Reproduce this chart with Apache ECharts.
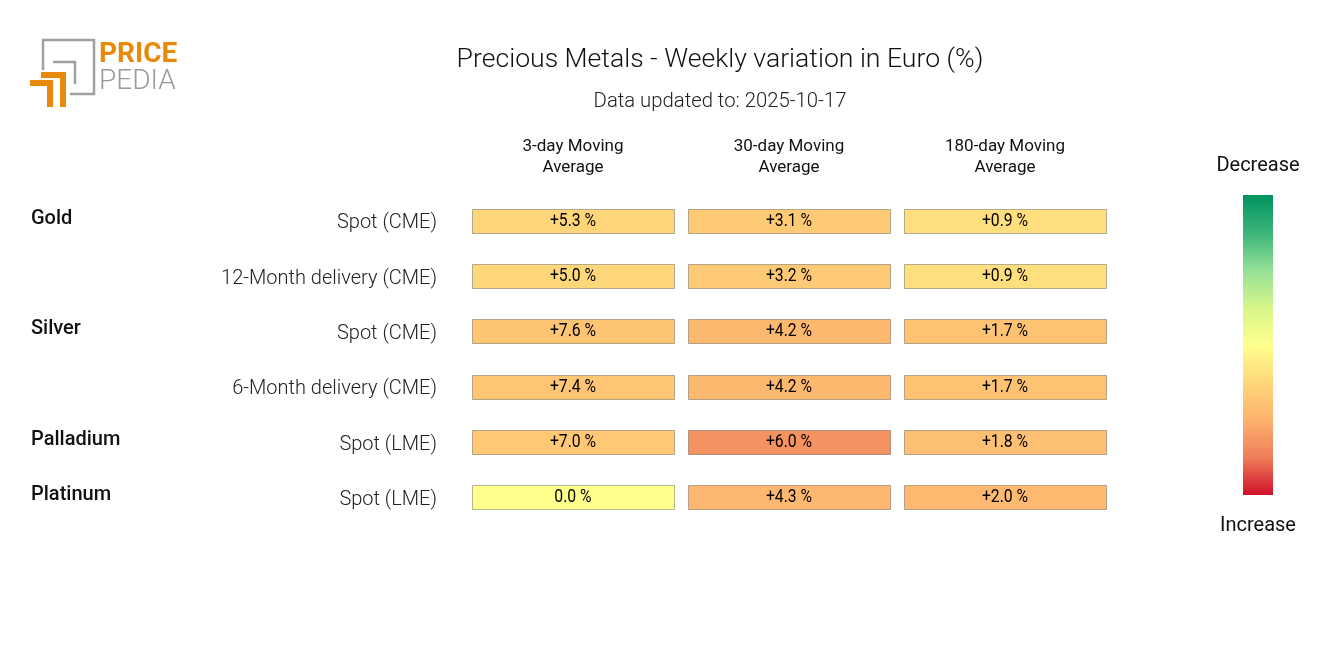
<!DOCTYPE html>
<html>
<head>
<meta charset="utf-8">
<script src="https://cdn.jsdelivr.net/npm/echarts@6/dist/echarts.min.js"></script>
<style>
html,body{margin:0;padding:0;background:#fff;}
#chart{width:1320px;height:645px;}
</style>
</head>
<body>
<div id="chart"></div>
<script>
// ---- data ----
const columns = ['3-day Moving\nAverage', '30-day Moving\nAverage', '180-day Moving\nAverage'];
const rowLabels = ['Spot (CME)', '12-Month delivery (CME)', 'Spot (CME)', '6-Month delivery (CME)', 'Spot (LME)', 'Spot (LME)'];
const groupLabels = ['Gold', '', 'Silver', '', 'Palladium', 'Platinum'];
const ma3 = [5.3, 5.0, 7.6, 7.4, 7.0, 0.0];
const ma30 = [3.1, 3.2, 4.2, 4.2, 6.0, 4.3];
const ma180 = [0.9, 0.9, 1.7, 1.7, 1.8, 2.0];
const colorScaleMax = [20, 9.2, 4.4];

const FONT = 'Roboto';
const seriesValues = [ma3, ma30, ma180];
const palette = ['#00935F', '#3BB57A', '#93E096', '#D6F58A', '#FFFF8C', '#FED77A', '#FDB26E', '#EF7E59', '#D0102A'];
const rowIdx = rowLabels.map((_, i) => String(i));
const CELL_W = 202, CELL_H = 24;

function fmt(v) {
  return (v > 0 ? '+' : '') + v.toFixed(1) + ' %';
}

const series = seriesValues.map((vals, c) => ({
  type: 'custom',
  coordinateSystem: 'cartesian2d',
  data: vals.map((v, r) => [c, r, v]),
  encode: { x: 0, y: 1 },
  renderItem: function (params, api) {
    const p = api.coord([api.value(0), api.value(1)]);
    const x = Math.round(p[0] - CELL_W / 2) + 0.5;
    const y = Math.round(p[1] - CELL_H / 2) + 0.5;
    return {
      type: 'group',
      children: [{
        type: 'rect',
        shape: { x: x, y: y, width: CELL_W, height: CELL_H },
        style: { fill: api.visual('color'), stroke: 'rgba(0,0,0,0.28)', lineWidth: 1 }
      }, {
        type: 'text',
        x: p[0], y: p[1] + 0.5, scaleX: 0.9,
        style: {
          x: 0, y: 0, text: fmt(api.value(2)), textAlign: 'center', textVerticalAlign: 'middle',
          fill: '#000', font: '17.5px Roboto'
        }
      }]
    };
  },
  emphasis: { disabled: true },
  animation: false
}));

const visualMap = seriesValues.map((_, c) => ({
  type: 'continuous', show: false, seriesIndex: c, dimension: 2,
  min: -colorScaleMax[c], max: colorScaleMax[c],
  inRange: { color: palette }
}));

const chart = echarts.init(document.getElementById('chart'), null, { renderer: 'canvas' });
chart.setOption({
  backgroundColor: '#fff',
  animation: false,
  title: {
    text: 'Precious Metals - Weekly variation in Euro (%)',
    subtext: 'Data updated to: 2025-10-17',
    left: 715, top: 42, textAlign: 'center', itemGap: 18,
    textStyle: { fontFamily: FONT, fontSize: 26.6, fontWeight: 300, color: '#111' },
    subtextStyle: { fontFamily: FONT, fontSize: 20.3, fontWeight: 300, color: '#222' }
  },
  grid: { left: 465, top: 193, width: 648, height: 332 },
  xAxis: {
    type: 'category', position: 'top', data: columns,
    axisLine: { show: false }, axisTick: { show: false }, splitLine: { show: false },
    axisLabel: { fontFamily: FONT, fontSize: 17, lineHeight: 21, color: '#111', margin: 15, interval: 0 }
  },
  yAxis: [{
    type: 'category', inverse: true, data: rowIdx,
    axisLine: { show: false }, axisTick: { show: false }, splitLine: { show: false },
    axisLabel: { margin: 28, interval: 0,
      formatter: (v, i) => '{r|' + rowLabels[i] + '}',
      rich: { r: { fontFamily: FONT, fontSize: 20, fontWeight: 300, color: '#222', padding: [5, 0, 0, 0] } } }
  }, {
    type: 'category', inverse: true, data: rowIdx, position: 'left',
    axisLine: { show: false }, axisTick: { show: false }, splitLine: { show: false },
    axisLabel: { margin: 434, align: 'left', interval: 0,
      formatter: (v, i) => groupLabels[i] ? '{g|' + groupLabels[i] + '}' : '',
      rich: { g: { fontFamily: FONT, fontSize: 20, fontWeight: 500, color: '#111', padding: [0, 0, 4, 0] } } }
  }],
  visualMap: visualMap,
  series: series,
  graphic: [
    // logo
    { type: 'polyline', shape: { points: [[43, 70], [43, 40], [94, 40], [94, 94], [70, 94]] }, style: { stroke: '#A0A0A0', lineWidth: 2.5, fill: null } },
    { type: 'polyline', shape: { points: [[53, 62], [75, 62], [75, 84]] }, style: { stroke: '#A0A0A0', lineWidth: 2.5, fill: null } },
    { type: 'polyline', shape: { points: [[41, 75], [63, 75], [63, 107]] }, style: { stroke: '#E8890C', lineWidth: 6, fill: null } },
    { type: 'polyline', shape: { points: [[30, 83], [50, 83], [50, 107]] }, style: { stroke: '#E8890C', lineWidth: 6, fill: null } },
    { type: 'text', left: 99, top: 41, style: { text: 'PRICE', fill: '#E8890C', font: 'bold 28px Roboto' } },
    { type: 'text', left: 99, top: 68, style: { text: 'PEDIA', fill: '#9A9A9A', font: '300 28px Roboto' } },
    // colour legend
    { type: 'rect', shape: { x: 1243, y: 195, width: 30, height: 300 },
      style: { fill: new echarts.graphic.LinearGradient(0, 0, 0, 1,
        palette.map((c, i) => ({ offset: i / (palette.length - 1), color: c }))) } },
    { type: 'text', style: { x: 1258, y: 166, text: 'Decrease', fill: '#111', font: '20px Roboto', textAlign: 'center', textVerticalAlign: 'middle' } },
    { type: 'text', style: { x: 1258, y: 526, text: 'Increase', fill: '#111', font: '20px Roboto', textAlign: 'center', textVerticalAlign: 'middle' } }
  ]
});
</script>
</body>
</html>
